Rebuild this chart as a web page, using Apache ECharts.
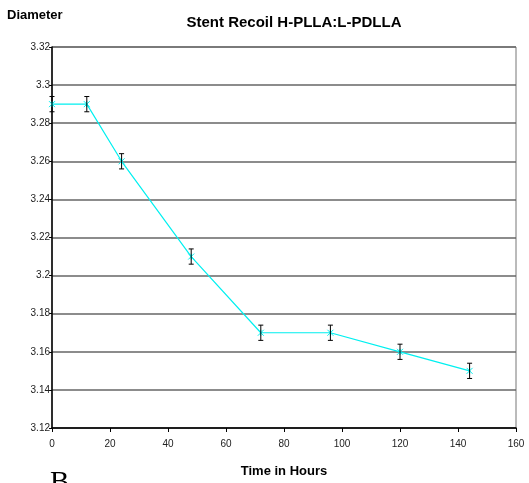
<!DOCTYPE html>
<html>
<head>
<meta charset="utf-8">
<script src="https://cdn.jsdelivr.net/npm/echarts@6/dist/echarts.min.js"></script>
<style>
  html, body { margin: 0; padding: 0; background: #fff; }
  #chart { width: 529px; height: 483px; }
</style>
</head>
<body>
<div id="chart"></div>
<script>
// data
const hours = [0, 12, 24, 48, 72, 96, 120, 144]
const diameters = [3.29, 3.29, 3.26, 3.21, 3.17, 3.17, 3.16, 3.15]
const errors = [0.004, 0.004, 0.004, 0.004, 0.004, 0.004, 0.004, 0.004]
const yTicks = ['3.12', '3.14', '3.16', '3.18', '3.2', '3.22', '3.24', '3.26', '3.28', '3.3', '3.32']

const chart = echarts.init(document.getElementById('chart'))

const linePoints = hours.map((h, i) => [h, diameters[i]])
const errPoints = hours.map((h, i) => [h, diameters[i] - errors[i], diameters[i] + errors[i]])

// error bars drawn through the axis scales
const renderErr = (params, api) => {
  const x = api.value(0)
  const lo = api.coord([x, api.value(1)])
  const hi = api.coord([x, api.value(2)])
  const cap = 2.5
  const style = { stroke: '#000', lineWidth: 1 }
  return {
    type: 'group',
    children: [
      { type: 'line', shape: { x1: lo[0], y1: lo[1], x2: hi[0], y2: hi[1] }, style },
      { type: 'line', shape: { x1: lo[0] - cap, y1: lo[1], x2: lo[0] + cap, y2: lo[1] }, style },
      { type: 'line', shape: { x1: hi[0] - cap, y1: hi[1], x2: hi[0] + cap, y2: hi[1] }, style }
    ]
  }
}

chart.setOption({
  animation: false,
  textStyle: { fontFamily: 'Liberation Sans, Arial, sans-serif' },
  title: {
    text: 'Stent Recoil H-PLLA:L-PDLLA',
    left: 289, top: 10, textAlign: 'center',
    textStyle: { fontSize: 15, fontWeight: 'bold', color: '#000' }
  },
  graphic: [
    { type: 'text', left: 7, top: 9, style: { text: 'Diameter', font: 'bold 13px Liberation Sans', fill: '#000' } },
    { type: 'text', left: 50, top: 469, style: { text: 'B', font: '29px Liberation Serif', fill: '#000' } }
  ],
  grid: { left: 52, right: 13, top: 47, bottom: 54, show: true, borderColor: '#777', borderWidth: 1 },
  xAxis: {
    type: 'value', min: 0, max: 160, interval: 20,
    name: 'Time in Hours', nameLocation: 'middle', nameGap: 37,
    nameTextStyle: { fontSize: 13, fontWeight: 'bold', color: '#000' },
    axisLine: { lineStyle: { color: '#000', width: 1.5 } },
    axisTick: { show: true, length: 4, lineStyle: { color: '#000' } },
    axisLabel: { fontSize: 10, color: '#222', margin: 11 },
    splitLine: { show: false }
  },
  yAxis: {
    type: 'value', min: 3.12, max: 3.32, interval: 0.02,
    axisLine: { show: true, lineStyle: { color: '#000', width: 1.5 } },
    axisTick: { show: true, length: 3, lineStyle: { color: '#000' } },
    axisLabel: {
      fontSize: 10, color: '#222', margin: 2,
      formatter: (v, i) => yTicks[i]
    },
    splitLine: { show: true, lineStyle: { color: '#666', width: 1.5 } }
  },
  series: [
    {
      type: 'line',
      data: linePoints,
      lineStyle: { color: '#00f0f0', width: 1.2 },
      itemStyle: { color: '#00f0f0', borderColor: '#00f0f0', borderWidth: 1 },
      symbol: 'path://M0,0L10,10M10,0L0,10M5,0L5,10',
      symbolSize: 6,
      z: 3
    },
    {
      type: 'custom',
      data: errPoints,
      renderItem: renderErr,
      encode: { x: 0, y: [1, 2] },
      z: 4
    }
  ]
})
</script>
</body>
</html>
